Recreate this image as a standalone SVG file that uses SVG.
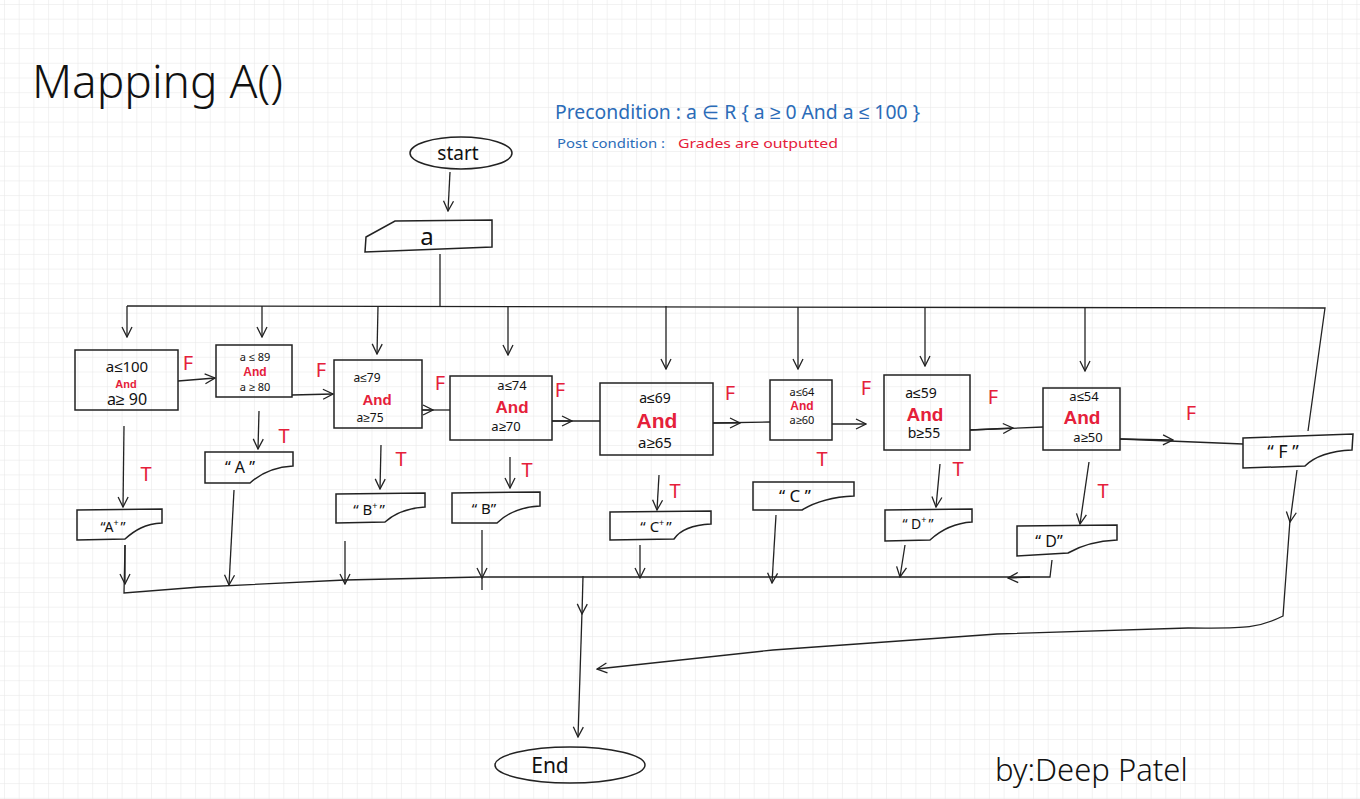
<svg xmlns="http://www.w3.org/2000/svg" width="1360" height="799" viewBox="0 0 1360 799">
<defs>
<pattern id="grid" x="4" y="4" width="14.7" height="14.7" patternUnits="userSpaceOnUse">
<path d="M14.7 0 L0 0 L0 14.7" fill="none" stroke="#e6e6e6" stroke-width="1"/>
</pattern>
<marker id="ah" viewBox="0 0 12 12" refX="11" refY="6" markerWidth="12" markerHeight="12" markerUnits="userSpaceOnUse" orient="auto">
<path d="M1 1 L11 6 L1 11" fill="none" stroke="#222" stroke-width="1.3"/>
</marker>
</defs>
<style>
.box{fill:none;stroke:#222;stroke-width:1.5}
.ln{fill:none;stroke:#222;stroke-width:1.3}
.tx{font-family:"Noto Sans","Liberation Sans",sans-serif;fill:#111;text-anchor:middle}
.and{font-family:"Liberation Sans","Noto Sans",sans-serif;fill:#e5203a;font-weight:bold;text-anchor:middle}
.lab{font-family:"Noto Sans","Liberation Sans",sans-serif;fill:#e5203a;font-size:20px;text-anchor:middle}
.blue{font-family:"Noto Sans","Liberation Sans",sans-serif;fill:#2b6cb8}
.red{font-family:"Noto Sans","Liberation Sans",sans-serif;fill:#e5203a}
.sup{font-size:9px}
</style>
<rect width="1360" height="799" fill="#fff"/>
<rect width="1360" height="799" fill="url(#grid)"/>

<text x="32" y="98" font-family="Noto Sans, Liberation Sans, sans-serif" font-size="46" font-weight="300" fill="#111">Mapping A()</text>
<text class="blue" x="555" y="119" font-size="19" textLength="365" lengthAdjust="spacingAndGlyphs">Precondition : a ∈ R { a ≥ 0 And a ≤ 100 }</text>
<text class="blue" x="557" y="148" font-size="13" textLength="108" lengthAdjust="spacingAndGlyphs">Post condition :</text>
<text class="red" x="678" y="148" font-size="13" textLength="160" lengthAdjust="spacingAndGlyphs">Grades are outputted</text>

<g id="start">
<ellipse class="box" cx="461" cy="153" rx="51" ry="16"/>
<text class="tx" x="458" y="160" font-size="19">start</text>
</g>
<g id="input-a">
<path class="box" d="M366 237 L395 221 L492 220 L492 247 L365 252 Z"/>
<text class="tx" x="427" y="245" font-size="24">a</text>
</g>

<g id="d1"><rect class="box" x="75" y="350" width="103" height="60"/>
<text class="tx" x="127" y="372" font-size="15">a≤100</text><text class="and" x="126" y="388" font-size="11">And</text><text class="tx" x="127" y="405" font-size="16">a≥ 90</text></g>
<g id="d2"><rect class="box" x="216" y="345" width="76" height="52"/>
<text class="tx" x="255" y="361" font-size="11">a ≤ 89</text><text class="and" x="255" y="376" font-size="12">And</text><text class="tx" x="255" y="391" font-size="11">a ≥ 80</text></g>
<g id="d3"><rect class="box" x="334" y="360" width="88" height="68"/>
<text class="tx" x="367" y="382" font-size="12">a≤79</text><text class="and" x="377" y="405" font-size="15">And</text><text class="tx" x="370" y="422" font-size="12">a≥75</text></g>
<g id="d4"><rect class="box" x="450" y="376" width="102" height="64"/>
<text class="tx" x="512" y="390" font-size="13">a≤74</text><text class="and" x="512" y="413" font-size="17">And</text><text class="tx" x="506" y="431" font-size="13">a≥70</text></g>
<g id="d5"><rect class="box" x="600" y="383" width="113" height="72"/>
<text class="tx" x="655" y="403" font-size="14">a≤69</text><text class="and" x="657" y="428" font-size="21">And</text><text class="tx" x="655" y="448" font-size="15">a≥65</text></g>
<g id="d6"><rect class="box" x="770" y="380" width="62" height="60"/>
<text class="tx" x="802" y="396" font-size="11">a≤64</text><text class="and" x="802" y="410" font-size="12">And</text><text class="tx" x="802" y="424" font-size="11">a≥60</text></g>
<g id="d7"><rect class="box" x="884" y="375" width="86" height="75"/>
<text class="tx" x="921" y="398" font-size="14">a≤59</text><text class="and" x="925" y="421" font-size="19">And</text><text class="tx" x="924" y="438" font-size="14">b≥55</text></g>
<g id="d8"><rect class="box" x="1043" y="388" width="77" height="62"/>
<text class="tx" x="1084" y="401" font-size="13">a≤54</text><text class="and" x="1082" y="424" font-size="19">And</text><text class="tx" x="1088" y="442" font-size="13">a≥50</text></g>

<g id="o-aplus"><path class="box" d="M77 510 L162 509 L162 523 C145 524 135 530 125 539 L77 540 Z"/><text class="tx" x="113" y="532" font-size="14">“A<tspan class="sup" dy="-6">+</tspan><tspan dx="2" dy="6">”</tspan></text></g>
<g id="o-a"><path class="box" d="M205 452 L293 452 L293 466 C275 467 262 472 250 483 L205 483 Z"/><text class="tx" x="240" y="473" font-size="16">“ A ”</text></g>
<g id="o-bplus"><path class="box" d="M336 494 L425 493 L425 507 C408 508 395 513 385 522 L336 523 Z"/><text class="tx" x="369" y="515" font-size="15">“ B<tspan class="sup" dy="-6">+</tspan><tspan dx="2" dy="6">”</tspan></text></g>
<g id="o-b"><path class="box" d="M452 493 L540 492 L540 506 C522 507 508 512 497 523 L452 523 Z"/><text class="tx" x="484" y="514" font-size="15">“ B”</text></g>
<g id="o-cplus"><path class="box" d="M610 512 L711 511 L711 524 C692 525 680 530 674 539 L610 540 Z"/><text class="tx" x="656" y="532" font-size="15">“ C<tspan class="sup" dy="-6">+</tspan><tspan dx="2" dy="6">”</tspan></text></g>
<g id="o-c"><path class="box" d="M753 482 L854 482 L854 496 C830 497 815 502 802 510 L753 510 Z"/><text class="tx" x="795" y="502" font-size="17">“ C ”</text></g>
<g id="o-dplus"><path class="box" d="M885 510 L972 509 L972 522 C955 523 942 529 930 540 L885 541 Z"/><text class="tx" x="918" y="529" font-size="14">“ D<tspan class="sup" dy="-6">+</tspan><tspan dx="2" dy="6">”</tspan></text></g>
<g id="o-d"><path class="box" d="M1017 526 L1117 525 L1117 540 C1095 541 1080 546 1068 553 L1017 556 Z"/><text class="tx" x="1049" y="547" font-size="16">“ D”</text></g>
<g id="o-f"><path class="box" d="M1243 438 L1353 434 L1352 450 C1330 451 1315 456 1305 466 L1243 468 Z"/><text class="tx" x="1283" y="458" font-size="18">“ F ”</text></g>

<g id="end"><ellipse class="box" cx="570" cy="765" rx="75" ry="18"/><text class="tx" x="550" y="773" font-size="21">End</text></g>

<g id="connectors">
<path class="ln" d="M450 172 L448 211" marker-end="url(#ah)"/>
<path class="ln" d="M440 254 L440 306"/>
<path class="ln" d="M127 306 L1325 308 L1308 431"/>
<path class="ln" d="M127 306 L127 337" marker-end="url(#ah)"/>
<path class="ln" d="M262 306 L262 337" marker-end="url(#ah)"/>
<path class="ln" d="M378 306 L377 354" marker-end="url(#ah)"/>
<path class="ln" d="M508 306 L508 355" marker-end="url(#ah)"/>
<path class="ln" d="M666 306 L666 369" marker-end="url(#ah)"/>
<path class="ln" d="M798 307 L798 369" marker-end="url(#ah)"/>
<path class="ln" d="M925 307 L925 366" marker-end="url(#ah)"/>
<path class="ln" d="M1085 307 L1085 371" marker-end="url(#ah)"/>

<path class="ln" d="M178 381 L215 378" marker-end="url(#ah)"/>
<path class="ln" d="M292 395 L333 394" marker-end="url(#ah)"/>
<path class="ln" d="M422 410 L450 410"/><path class="ln" d="M422 410 L433 410" marker-end="url(#ah)"/>
<path class="ln" d="M552 421 L600 421"/><path class="ln" d="M552 421 L572 421" marker-end="url(#ah)"/>
<path class="ln" d="M713 423 L770 422"/><path class="ln" d="M713 423 L740 423" marker-end="url(#ah)"/>
<path class="ln" d="M832 424 L866 424" marker-end="url(#ah)"/>
<path class="ln" d="M970 430 L1043 427"/><path class="ln" d="M970 430 L1013 428" marker-end="url(#ah)"/>
<path class="ln" d="M1120 439 L1243 444"/><path class="ln" d="M1120 439 L1173 440" marker-end="url(#ah)"/>

<path class="ln" d="M124 426 L123 507" marker-end="url(#ah)"/>
<path class="ln" d="M259 411 L258 449" marker-end="url(#ah)"/>
<path class="ln" d="M381 445 L380 489" marker-end="url(#ah)"/>
<path class="ln" d="M510 457 L510 488" marker-end="url(#ah)"/>
<path class="ln" d="M659 475 L657 510" marker-end="url(#ah)"/>
<path class="ln" d="M940 464 L936 507" marker-end="url(#ah)"/>
<path class="ln" d="M1089 462 L1080 524" marker-end="url(#ah)"/>

<path class="ln" d="M125 545 L124 593 L200 587 L345 580 L480 577 L640 577 L900 577 L1050 577 L1052 560" stroke-width="1.8"/>
<path class="ln" d="M125 545 L125 584" marker-end="url(#ah)"/>
<path class="ln" d="M234 490 L229 585" marker-end="url(#ah)"/>
<path class="ln" d="M345 541 L345 584" marker-end="url(#ah)"/>
<path class="ln" d="M482 530 L482 578" marker-end="url(#ah)"/>
<path class="ln" d="M482 578 L482 590"/>
<path class="ln" d="M640 545 L640 578" marker-end="url(#ah)"/>
<path class="ln" d="M776 515 L772 583" marker-end="url(#ah)"/>
<path class="ln" d="M905 545 L900 577" marker-end="url(#ah)"/>
<path class="ln" d="M1030 577 L1008 578" marker-end="url(#ah)"/>

<path class="ln" d="M583 576 L582 614" marker-end="url(#ah)"/>
<path class="ln" d="M582 612 L578 737" marker-end="url(#ah)"/>
<path class="ln" d="M1297 470 L1290 522" marker-end="url(#ah)"/>
<path class="ln" d="M1290 520 L1283 616 C1255 630 1240 628 1188 628 L997 634 L773 650 L597 669" stroke-width="1.8" marker-end="url(#ah)"/>
</g>

<g id="labels">
<text class="lab" x="188" y="370">F</text>
<text class="lab" x="321" y="377">F</text>
<text class="lab" x="440" y="390">F</text>
<text class="lab" x="560" y="397">F</text>
<text class="lab" x="730" y="400">F</text>
<text class="lab" x="866" y="395">F</text>
<text class="lab" x="993" y="404">F</text>
<text class="lab" x="1191" y="420">F</text>
<text class="lab" x="146" y="481">T</text>
<text class="lab" x="284" y="443">T</text>
<text class="lab" x="401" y="466">T</text>
<text class="lab" x="527" y="477" font-size="16">T</text>
<text class="lab" x="675" y="498">T</text>
<text class="lab" x="822" y="466">T</text>
<text class="lab" x="958" y="476">T</text>
<text class="lab" x="1103" y="498">T</text>
</g>

<text x="995" y="781" font-family="Noto Sans, Liberation Sans, sans-serif" font-size="31" font-weight="300" fill="#111">by:Deep Patel</text>
</svg>
